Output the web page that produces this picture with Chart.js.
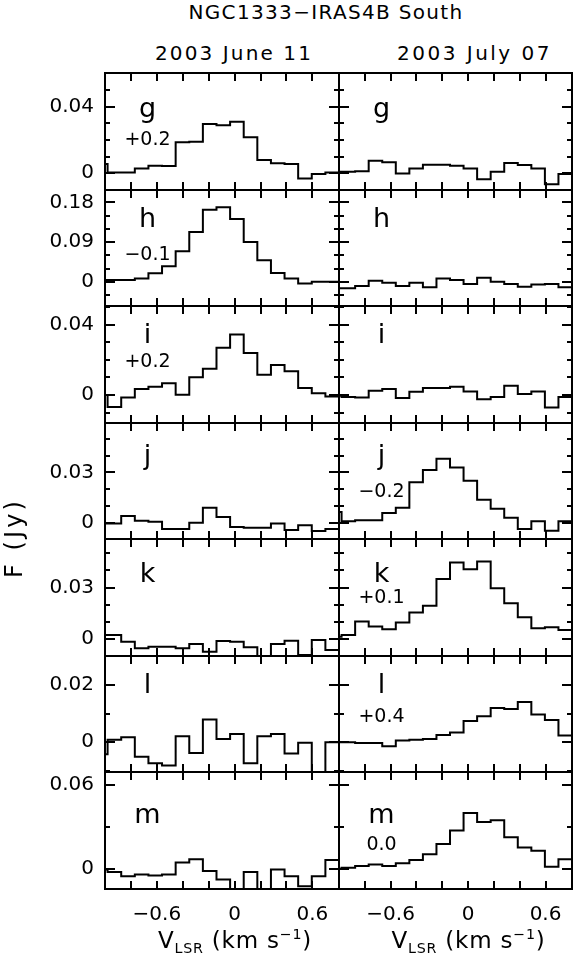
<!DOCTYPE html>
<html>
<head>
<meta charset="utf-8">
<script src="https://cdn.jsdelivr.net/npm/chart.js@4.4.1/dist/chart.umd.min.js"></script>
<style>
html,body{margin:0;padding:0;background:#fff;}
#root{position:relative;width:574px;height:958px;overflow:hidden;font-family:"DejaVu Sans",sans-serif;color:#000;background:#fff;}
#root canvas{position:absolute;}
.t{position:absolute;white-space:nowrap;line-height:1;}
.t sub{font-size:0.62em;vertical-align:-0.38em;line-height:0;}
.t sup{font-size:0.62em;vertical-align:0.62em;line-height:0;}
</style>
</head>
<body>
<div id="root"></div>
<script>
// ---------------- data ----------------
const velocityEdges = [-1.085, -0.98, -0.875, -0.77, -0.665, -0.56, -0.455, -0.35, -0.245, -0.14, -0.035, 0.07, 0.175, 0.28, 0.385, 0.49, 0.595, 0.70, 0.805];

const panelLetters = ['g', 'h', 'i', 'j', 'k', 'l', 'm'];
const epochTitles = ['2003 June 11', '2003 July 07'];
const juneOffsets = ['+0.2', '\u22120.1', '+0.2', '', '', '', ''];
const julyOffsets = ['', '', '', '\u22120.2', '+0.1', '+0.4', '0.0'];

const juneG = [0.0055, 0.0004, 0.0004, 0.0028, 0.0045, 0.0043, 0.0187, 0.019, 0.0297, 0.029, 0.031, 0.0217, 0.0079, 0.0059, 0.0055, -0.0033, -0.0006, 0.0004];
const juneH = [0.0038, 0.0038, 0.0038, 0.0075, 0.019, 0.035, 0.069, 0.1125, 0.163, 0.169, 0.1425, 0.09, 0.049, 0.020, 0.0075, -0.004, 0.0, 0.0];
const juneI = [0.0, -0.0067, -0.0013, 0.0034, 0.0048, 0.0067, 0.0002, 0.0101, 0.0149, 0.0269, 0.0343, 0.0238, 0.0116, 0.0171, 0.0135, 0.004, 0.0011, -0.0008];
const juneJ = [-0.0004, -0.0004, 0.0041, 0.0012, 0.0006, -0.0037, -0.0037, 0.0, 0.009, 0.0035, -0.0024, -0.0029, -0.0029, -0.0004, -0.0043, -0.0014, -0.0049, -0.0037];
const juneK = [0.0025, 0.0025, -0.0014, -0.0052, -0.0043, -0.0043, -0.0052, -0.0027, -0.0072, -0.001, -0.0014, -0.0046, -0.012, -0.0027, -0.0008, -0.0091, -0.0004, -0.0062];
const juneL = [-0.0043, 0.0008, 0.0017, -0.0051, -0.0074, -0.0082, 0.0021, -0.0038, 0.008, 0.0011, 0.0029, -0.0074, 0.0021, 0.0029, -0.004, -0.0002, -0.012, 0.0];
const juneM = [-0.0005, -0.0024, -0.0053, -0.0041, -0.0048, -0.0041, 0.0044, 0.0068, -0.0017, -0.0077, -0.016, -0.0024, -0.016, -0.0005, -0.0053, -0.0126, -0.0053, 0.0063];

const julyG = [0.0008, 0.0008, 0.0012, 0.0075, 0.0065, -0.0002, 0.0028, 0.005, 0.005, 0.0045, 0.0028, -0.0037, 0.0008, 0.0061, 0.0049, 0.0028, -0.0067, -0.0006];
const julyH = [-0.015, -0.015, -0.00975, 0.00225, -0.00225, -0.00975, -0.00225, -0.01275, 0.0075, 0.00375, -0.00525, 0.009, 0.0, -0.00525, -0.01125, -0.006, -0.00525, -0.01275];
const julyI = [-0.0004, -0.001, -0.0013, 0.0025, 0.0034, -0.0017, 0.0019, 0.004, 0.004, 0.0048, 0.0021, -0.0023, -0.001, 0.0053, 0.0006, 0.0021, -0.007, -0.001];
const julyJ = [0.0065, 0.001, 0.0016, 0.0016, 0.0059, 0.009, 0.0241, 0.0314, 0.0382, 0.0329, 0.0251, 0.0137, 0.0084, 0.0031, -0.0037, 0.001, -0.0047, 0.001];
const julyK = [0.0015, 0.0025, 0.0103, 0.0074, 0.0058, 0.0097, 0.0155, 0.0195, 0.035, 0.0445, 0.0406, 0.0451, 0.0296, 0.0209, 0.0128, 0.0064, 0.007, 0.0054];
const julyL = [0.0, 0.0, -0.0003, -0.0003, -0.0014, 0.0006, 0.0008, 0.0011, 0.0025, 0.0034, 0.0074, 0.0091, 0.012, 0.0117, 0.0141, 0.0097, 0.0078, 0.0023];
const julyM = [0.0, 0.0007, 0.0019, 0.0031, 0.0019, 0.0039, 0.0063, 0.0104, 0.0177, 0.0273, 0.0399, 0.0334, 0.0346, 0.0225, 0.0152, 0.0128, 0.0015, 0.0068];

// axis ranges and ticks
const xRange = [-1.0, 0.805];
const xMajorTicks = [-0.6, 0, 0.6];
const xMajorLabels = ['\u22120.6', '0', '0.6'];
const xMinorTicks = [-0.8, -0.4, -0.2, 0.2, 0.4];

const rowYMin = [-0.0102, -0.055, -0.0158, -0.0096, -0.0097, -0.0105, -0.0145];
const rowYMax = [0.0605, 0.208, 0.0505, 0.0594, 0.0582, 0.0303, 0.0692];
const rowMajorTicks = [[0, 0.04], [0, 0.09, 0.18], [0, 0.04], [0, 0.03], [0, 0.03], [0, 0.02], [0, 0.06]];
const rowMajorLabels = [['0', '0.04'], ['0', '0.09', '0.18'], ['0', '0.04'], ['0', '0.03'], ['0', '0.03'], ['0', '0.02'], ['0', '0.06']];
const rowMinorTicks = [[-0.01, 0.01, 0.02, 0.03, 0.05], [-0.03, 0.03, 0.06, 0.12, 0.15], [-0.01, 0.01, 0.02, 0.03, 0.05], [0.01, 0.02, 0.04, 0.05], [0.01, 0.02, 0.04, 0.05], [-0.01, 0.01], [0.03]];

// ---------------- layout ----------------
const PLOT_LEFT = 105, PLOT_MID = 339, PLOT_RIGHT = 572, PLOT_TOP = 73, PLOT_BOTTOM = 889, N_ROWS = 7, PAD = 4;
const X_AXIS_H = 34;
const rowEdges = Array.from({length: N_ROWS + 1}, (_, i) => Math.round(PLOT_TOP + i * (PLOT_BOTTOM - PLOT_TOP) / N_ROWS));
const letterBaselines = [116.8, 226.7, 343, 464, 581.7, 693, 823.3];
const offsetBaselines = [145, 260, 367, 497, 603.5, 722, 850];
const LABEL_DX = 42.5;

const juneSeries = [juneG, juneH, juneI, juneJ, juneK, juneL, juneM];
const julySeries = [julyG, julyH, julyI, julyJ, julyK, julyL, julyM];

Chart.defaults.font.family = 'DejaVu Sans';
Chart.defaults.color = '#000';

const root = document.getElementById('root');

const framePlugin = {
  id: 'frame',
  afterDatasetsDraw(chart, args, opts) {
    const {ctx, chartArea: a} = chart;
    const xs = chart.scales.x, ys = chart.scales.y;
    ctx.save();
    ctx.strokeStyle = '#000';
    ctx.lineWidth = 2;
    ctx.lineCap = 'butt';
    ctx.beginPath();
    const yt = (vals, len) => vals.forEach(v => {
      const p = Math.round(ys.getPixelForValue(v));
      ctx.moveTo(a.left, p); ctx.lineTo(a.left + len, p);
      ctx.moveTo(a.right, p); ctx.lineTo(a.right - len, p);
    });
    const xt = (vals, len) => vals.forEach(v => {
      const p = Math.round(xs.getPixelForValue(v));
      ctx.moveTo(p, a.top); ctx.lineTo(p, a.top + len);
      ctx.moveTo(p, a.bottom); ctx.lineTo(p, a.bottom - len);
    });
    yt(opts.yMajor, 10); yt(opts.yMinor, 5);
    xt(opts.xMajor, 8); xt(opts.xMinor, 8);
    ctx.stroke();
    ctx.strokeRect(a.left, a.top, a.right - a.left, a.bottom - a.top);
    ctx.restore();
  }
};

function makePanel(row, col) {
  const series = col === 0 ? juneSeries[row] : julySeries[row];
  const top = rowEdges[row], bottom = rowEdges[row + 1];
  const isBottom = row === N_ROWS - 1;
  const showY = col === 0;
  const canvasLeft = col === 0 ? 0 : PLOT_MID - PAD;
  const width = col === 0 ? PLOT_MID + PAD : (PLOT_RIGHT - PLOT_MID) + 2 * PAD;
  const height = (bottom - top) + PAD + (isBottom ? X_AXIS_H : PAD);
  const cv = document.createElement('canvas');
  cv.width = width; cv.height = height;
  cv.style.left = canvasLeft + 'px';
  cv.style.top = (top - PAD) + 'px';
  cv.style.width = width + 'px';
  cv.style.height = height + 'px';
  root.appendChild(cv);

  const pts = velocityEdges.map((v, i) => ({x: v, y: series[Math.min(i, series.length - 1)]}));
  const yLabels = rowMajorLabels[row];

  new Chart(cv, {
    type: 'line',
    data: {datasets: [{
      data: pts,
      stepped: 'before',
      borderColor: '#000',
      borderWidth: 2,
      pointRadius: 0,
      fill: false,
      tension: 0,
      borderJoinStyle: 'miter',
      borderCapStyle: 'butt'
    }]},
    options: {
      responsive: false,
      animation: false,
      devicePixelRatio: 1,
      events: [],
      layout: {padding: {left: col === 0 ? 0 : PAD, right: PAD, top: PAD, bottom: isBottom ? 0 : PAD}},
      plugins: {
        legend: {display: false},
        tooltip: {enabled: false},
        frame: {yMajor: rowMajorTicks[row], yMinor: rowMinorTicks[row], xMajor: xMajorTicks, xMinor: xMinorTicks}
      },
      scales: {
        x: {
          type: 'linear', min: xRange[0], max: xRange[1],
          display: isBottom, position: 'bottom',
          grid: {display: false, drawTicks: false}, border: {display: false},
          afterBuildTicks: s => { s.ticks = xMajorTicks.map(v => ({value: v})); },
          afterFit: s => { if (isBottom) s.height = X_AXIS_H; s.paddingLeft = 0; s.paddingRight = 0; },
          ticks: {padding: 14, autoSkip: false, maxRotation: 0, minRotation: 0, color: '#000',
                  font: {family: 'DejaVu Sans', size: 20},
                  callback: (v, i) => xMajorLabels[i]}
        },
        y: {
          type: 'linear', min: rowYMin[row], max: rowYMax[row],
          display: showY, position: 'left',
          grid: {display: false, drawTicks: false}, border: {display: false},
          afterBuildTicks: s => { s.ticks = rowMajorTicks[row].map(v => ({value: v})); },
          afterFit: s => { if (showY) s.width = PLOT_LEFT; s.paddingTop = 0; s.paddingBottom = 0; },
          ticks: {padding: 11, autoSkip: false, color: '#000',
                  font: {family: 'DejaVu Sans', size: 20},
                  callback: (v, i) => yLabels[i]}
        }
      }
    },
    plugins: [framePlugin]
  });
}

for (let r = 0; r < N_ROWS; r++) { makePanel(r, 0); makePanel(r, 1); }

// ---------------- text ----------------
function addText(html, cx, baseline, size, targetWidth) {
  const el = document.createElement('div');
  el.className = 't';
  el.innerHTML = html;
  el.style.fontSize = size + 'px';
  root.appendChild(el);
  if (targetWidth) {
    const w = el.getBoundingClientRect().width;
    el.style.letterSpacing = ((targetWidth - w) / el.textContent.length) + 'px';
  }
  const w = el.getBoundingClientRect().width;
  el.style.left = (cx - w / 2) + 'px';
  el.style.top = (baseline - 0.846 * size) + 'px';
  return el;
}

addText('NGC1333\u2212IRAS4B South', 326, 18.5, 20, 275);
addText(epochTitles[0], 234, 60, 20, 158);
addText(epochTitles[1], 474.5, 60, 20, 155);

for (let r = 0; r < N_ROWS; r++) {
  [PLOT_LEFT, PLOT_MID].forEach((pl, c) => {
    addText(panelLetters[r], pl + LABEL_DX, letterBaselines[r], 27);
    const off = c === 0 ? juneOffsets[r] : julyOffsets[r];
    if (off) addText(off, pl + LABEL_DX, offsetBaselines[r], 19);
  });
}

const vTitle = 'V<sub>LSR</sub> (km s<sup>\u22121</sup>)';
addText(vTitle, 235, 948.5, 23, 154);
addText(vTitle, 468.5, 948.5, 23, 154);

// rotated y-axis title
(function () {
  const el = document.createElement('div');
  el.className = 't';
  el.textContent = 'F (Jy)';
  el.style.fontSize = '24px';
  root.appendChild(el);
  const w0 = el.getBoundingClientRect().width;
  el.style.letterSpacing = ((80 - w0) / el.textContent.length) + 'px';
  el.style.left = '14px';
  el.style.top = '537.5px';
  el.style.transformOrigin = '0 0';
  el.style.transform = 'rotate(-90deg) translate(-50%, -50%)';
})();
</script>
</body>
</html>
